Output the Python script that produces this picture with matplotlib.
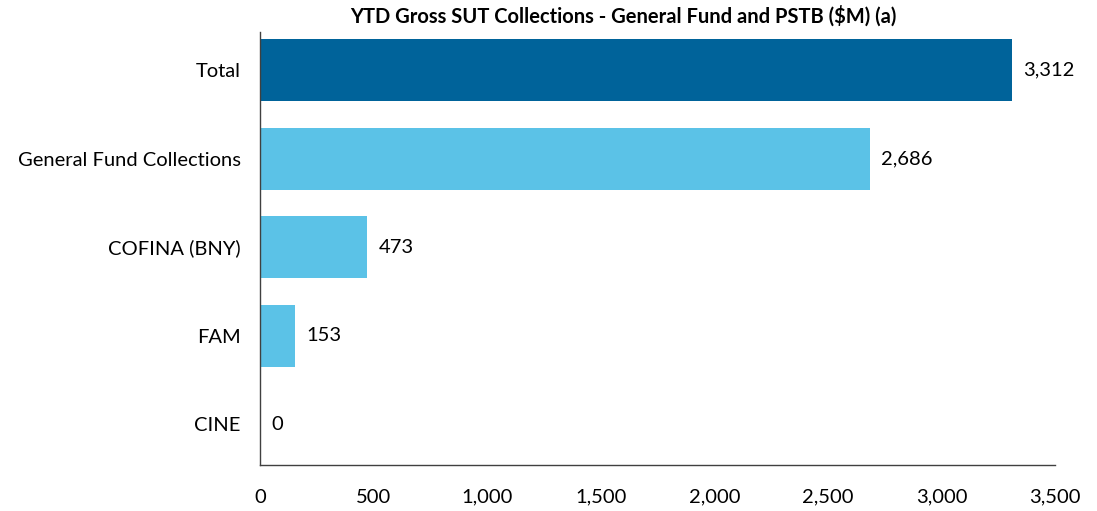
import matplotlib
matplotlib.use("Agg")
import matplotlib.pyplot as plt

categories = ["Total", "General Fund Collections", "COFINA (BNY)", "FAM", "CINE"]
values = [3312, 2686, 473, 153, 0]
colors = ["#00639A", "#5BC2E7", "#5BC2E7", "#5BC2E7", "#5BC2E7"]
xticks = [0, 500, 1000, 1500, 2000, 2500, 3000, 3500]
title = "YTD Gross SUT Collections - General Fund and PSTB ($M) (a)"

plt.rcParams['font.family'] = ['Lato', 'DejaVu Sans']

fig = plt.figure(figsize=(10.97, 5.11), dpi=100)
ax = fig.add_axes([260/1097, 1-465/511, (1055-260)/1097, (465-32)/511])

ypos = list(range(len(categories)))
ax.barh(ypos, values, height=0.7, color=colors)
for y, v in zip(ypos, values):
    ax.annotate(f"{v:,}", (v, y), xytext=(8, 0), textcoords="offset points",
                va="center", ha="left", fontsize=14.5, color="#000000")

ax.set_yticks(ypos)
ax.set_yticklabels(categories, fontsize=14.5)
ax.set_ylim(4.46, -0.43)
ax.set_xlim(0, 3500)
ax.set_xticks(xticks)
ax.set_xticklabels([f"{t:,}" for t in xticks], fontsize=14.5)
ax.tick_params(axis="both", length=0)
ax.tick_params(axis="x", pad=17)
ax.tick_params(axis="y", pad=14)
for s in ["top", "right"]:
    ax.spines[s].set_visible(False)
for s in ["left", "bottom"]:
    ax.spines[s].set_color("#404040")
    ax.spines[s].set_linewidth(1.0)

fig.text(623/1097, 1-16/511, title, ha="center", va="center", fontsize=14.5, fontweight="bold")

fig.savefig("out.png", dpi=100)
